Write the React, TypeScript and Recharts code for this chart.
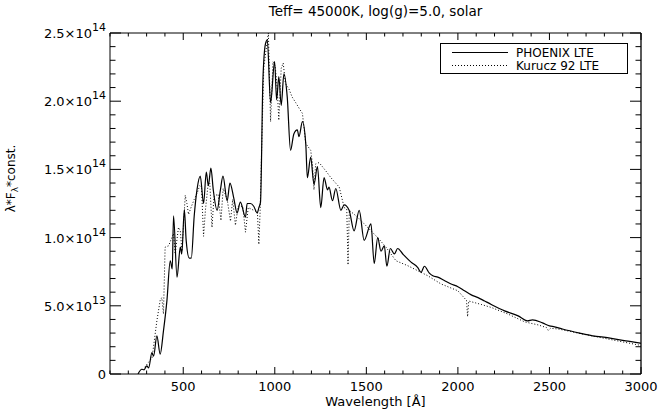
import {
  Legend,
  Line,
  LineChart,
  XAxis,
  YAxis,
} from "recharts";

// flux values are in units of 1e13 (lambda * F_lambda * const.)
const PHOENIX_WL = [
  253, 274, 286, 301, 311, 329, 338, 356, 374, 392, 411, 429, 440, 447, 466, 484, 492, 506, 516,
  533, 544, 560, 575, 593, 611, 626, 637, 651, 664, 685, 703, 717, 740, 755, 776, 794, 812, 840,
  849, 867, 885, 904, 913, 922, 935, 949, 959, 977, 999, 1010, 1022, 1035, 1050, 1068, 1086, 1104,
  1123, 1132, 1151, 1169, 1178, 1196, 1214, 1233, 1251, 1269, 1288, 1296, 1315, 1333, 1361, 1379,
  1406, 1433, 1461, 1488, 1525, 1543, 1562, 1580, 1598, 1612, 1631, 1653, 1671, 1699, 1717, 1744,
  1781, 1799, 1817, 1844, 1863, 1890, 1926, 1963, 2000, 2036, 2073, 2110, 2146, 2182, 2255, 2329,
  2380, 2407, 2462, 2500, 2528, 2571, 2665, 2736, 2824, 2917, 2988, 3000,
];
const PHOENIX_FLUX = [
  0, 0.35, 0.3, 0.6, 0.45, 1.57, 1.3, 2.8, 1.45, 3.16, 5.4, 8.3, 7.7, 11.6, 7.1, 9.3, 8.8, 12.05, 9.8,
  8.5, 8.5, 11.6, 13.5, 14.5, 12.5, 14.8, 13.8, 15.1, 13.5, 12.0, 13.5, 14.5, 12.7, 14.0, 12.9, 11.8,
  12.6, 11.5, 12.5, 12.5, 12.3, 11.8, 12.2, 12.6, 21.5, 24.2, 24.5, 19.9, 22.9, 20.1, 21.8, 19.7,
  22.0, 20.3, 16.4, 17.6, 17.9, 17.4, 18.5, 16.9, 14.4, 15.9, 13.9, 15.2, 12.2, 14.4, 13.5, 13.7,
  12.7, 13.6, 12.0, 12.4, 12.0, 10.5, 12.0, 9.8, 11.0, 8.1, 10.0, 9.0, 9.4, 7.9, 9.2, 8.8, 9.2, 8.8,
  8.55, 8.2, 7.8, 7.45, 7.9, 7.4, 7.2, 7.1, 6.85, 6.6, 6.4, 6.1, 5.8, 5.6, 5.35, 5.1, 4.63, 4.26,
  3.9, 3.97, 3.75, 3.53, 3.46, 3.3, 3.0, 2.8, 2.65, 2.43, 2.28, 2.25,
];

const KURUCZ_WL = [
  290, 330, 356, 374, 383, 392, 401, 420, 447, 456, 474, 484, 493, 511, 520, 529, 545, 560, 577,
  590, 600, 611, 621, 635, 645, 657, 668, 690, 706, 718, 740, 758, 770, 785, 800, 825, 840, 855,
  885, 905, 913, 920, 930, 940, 955, 965, 977, 990, 1002, 1013, 1022, 1035, 1046, 1058, 1077, 1095,
  1114, 1132, 1151, 1169, 1196, 1205, 1214, 1223, 1242, 1278, 1306, 1352, 1379, 1393, 1400, 1407,
  1452, 1507, 1562, 1607, 1662, 1726, 1781, 1836, 1908, 2000, 2040, 2047, 2053, 2059, 2127, 2182,
  2274, 2365, 2438, 2484, 2493, 2506, 2548, 2730, 2986, 3000,
];
const KURUCZ_FLUX = [
  0.5, 1.2, 3.9, 5.4, 5.6, 4.4, 9.3, 9.4, 10.3, 8.8, 10.75, 10.5, 9.0, 13.1, 12.5, 11.7, 12.3, 12.8,
  13.3, 13.8, 13.6, 10.1, 12.0, 13.8, 14.0, 10.75, 13.0, 13.2, 11.25, 13.6, 12.8, 11.2, 12.8, 10.9,
  12.3, 12.3, 10.4, 12.2, 12.0, 11.9, 9.5, 12.0, 17.5, 22.5, 24.0, 25.0, 18.5, 22.9, 22.6, 21.0,
  18.6, 22.4, 22.8, 21.3, 20.9, 20.3, 19.9, 19.5, 19.1, 16.9, 16.4, 15.5, 13.5, 15.4, 15.5, 14.9,
  14.4, 13.7, 12.2, 12.1, 8.0, 12.0, 11.5, 10.75, 10.0, 9.3, 8.3, 7.94, 7.57, 7.2, 6.6, 6.1, 5.5,
  5.4, 4.2, 5.35, 5.1, 4.88, 4.39, 3.82, 3.6, 3.4, 3.2, 3.35, 3.3, 2.8, 2.13, 2.1,
];

const SERIES_NAMES = ["PHOENIX LTE", "Kurucz 92 LTE"];
const X_MAJOR = [500, 1000, 1500, 2000, 2500, 3000];
const X_TICKS = Array.from({ length: 30 }, (_, i) => 100 + i * 100);
const Y_MAJOR = [0, 5, 10, 15, 20, 25];
const Y_MANTISSA = ["0", "5.0", "1.0", "1.5", "2.0", "2.5"];
const Y_EXPONENT = ["", "13", "14", "14", "14", "14"];
const Y_TICKS = Array.from({ length: 26 }, (_, i) => i);
const Y_MAX = 25;

const TITLE = "Teff= 45000K, log(g)=5.0, solar";

const CHART_W = 659;
const CHART_H = 412;
const TOP_GAP = 33;
const X_AXIS_H = 38;
const RIGHT_GAP = 18;
const PLOT_RIGHT = CHART_W - RIGHT_GAP;
const PLOT_H = CHART_H - TOP_GAP - X_AXIS_H;

type Row = { w: number; phoenix?: number; kurucz?: number };

function buildRows(): Row[] {
  const byW = new Map<number, Row>();
  const ensure = (w: number) => {
    let r = byW.get(w);
    if (!r) {
      r = { w };
      byW.set(w, r);
    }
    return r;
  };
  PHOENIX_WL.forEach((w, i) => (ensure(w).phoenix = PHOENIX_FLUX[i]));
  KURUCZ_WL.forEach((w, i) => (ensure(w).kurucz = KURUCZ_FLUX[i]));
  return Array.from(byW.values()).sort((a, b) => a.w - b.w);
}

const data = buildRows();
const FONT = 13;

function BottomTick({ x, y, payload }: any) {
  const major = X_MAJOR.includes(payload.value);
  return (
    <g>
      <line x1={x} x2={x} y1={y} y2={y - (major ? 7 : 3.5)} stroke="#000" />
      {major && (
        <text x={x} y={y + 17} textAnchor="middle" fill="#000" fontSize={FONT}>
          {payload.value}
        </text>
      )}
    </g>
  );
}

function TopTick({ x, y, payload }: any) {
  const major = X_MAJOR.includes(payload.value);
  return <line x1={x} x2={x} y1={y} y2={y + (major ? 7 : 3.5)} stroke="#000" />;
}

function LeftTick({ x, y, payload }: any) {
  const idx = Y_MAJOR.indexOf(payload.value);
  const major = idx >= 0;
  const exp = major ? Y_EXPONENT[idx] : "";
  return (
    <g>
      <line x1={x} x2={x + (major ? 11 : 5.5)} y1={y} y2={y} stroke="#000" />
      {major && (
        <text x={x - 4} y={y + 5} textAnchor="end" fill="#000" fontSize={FONT}>
          {exp ? `${Y_MANTISSA[idx]}×10` : Y_MANTISSA[idx]}
          {exp && <tspan fontSize={11} dy={-7}>{exp}</tspan>}
        </text>
      )}
    </g>
  );
}

function YTitle(props: any) {
  const vb = props.viewBox || { x: 0, y: 33, width: 110, height: 341 };
  const cx = vb.x + 15;
  const cy = vb.y + vb.height / 2 - 25;
  return (
    <text transform={`translate(${cx},${cy}) rotate(-90)`} textAnchor="middle" fill="#000" fontSize={12}>
      λ*F
      <tspan fontSize={9} dy={3}>λ</tspan>
      <tspan dy={-3}>*const.</tspan>
    </text>
  );
}

function LegendBox() {
  return (
    <svg width={188} height={31} style={{ display: "block" }}>
      <rect x={0.5} y={0.5} width={187} height={30} fill="#fff" stroke="#000" />
      {SERIES_NAMES.map((name, i) => (
        <g key={name}>
          <line
            x1={12}
            x2={68}
            y1={9.5 + i * 13}
            y2={9.5 + i * 13}
            stroke="#000"
            strokeWidth={1.2}
            strokeDasharray={i === 1 ? "1 2" : undefined}
          />
          <text x={76} y={13.5 + i * 13} fill="#000" fontSize={12}>
            {name}
          </text>
        </g>
      ))}
    </svg>
  );
}

// right side of the IDL box (frame line + inward ticks), laid over the chart
function RightFrame() {
  return (
    <svg
      width={CHART_W}
      height={CHART_H}
      style={{ position: "absolute", left: 0, top: 0, pointerEvents: "none", zIndex: 5 }}
    >
      <line
        x1={PLOT_RIGHT}
        x2={PLOT_RIGHT}
        y1={TOP_GAP}
        y2={TOP_GAP + PLOT_H}
        stroke="#000"
        strokeWidth={1.3}
      />
      {Y_TICKS.map((v) => {
        const y = TOP_GAP + PLOT_H * (1 - v / Y_MAX);
        const len = Y_MAJOR.includes(v) ? 11 : 5.5;
        return <line key={v} x1={PLOT_RIGHT} x2={PLOT_RIGHT - len} y1={y} y2={y} stroke="#000" />;
      })}
    </svg>
  );
}

export default function App() {
  return (
    <div
      style={{
        position: "absolute",
        left: 0,
        top: 0,
        width: CHART_W,
        height: CHART_H,
        background: "#fff",
        fontFamily: "'DejaVu Sans', sans-serif",
      }}
    >
      <LineChart
        width={CHART_W}
        height={CHART_H}
        data={data}
        margin={{ top: TOP_GAP - 1, right: RIGHT_GAP, bottom: 0, left: 0 }}
      >
        <XAxis
          dataKey="w"
          type="number"
          domain={[100, 3000]}
          allowDataOverflow
          ticks={X_TICKS}
          interval={0}
          height={X_AXIS_H}
          tickSize={0}
          tickMargin={0}
          tickLine={false}
          tick={<BottomTick />}
          axisLine={{ stroke: "#000" }}
          label={{ value: "Wavelength [Å]", position: "insideBottom", offset: 6, fill: "#000", fontSize: FONT }}
        />
        <XAxis
          xAxisId="top"
          orientation="top"
          dataKey="w"
          type="number"
          domain={[100, 3000]}
          allowDataOverflow
          ticks={X_TICKS}
          interval={0}
          height={1}
          tickSize={0}
          tickMargin={0}
          tickLine={false}
          tick={<TopTick />}
          axisLine={{ stroke: "#000" }}
          label={{ value: TITLE, position: "top", offset: 16, fill: "#000", fontSize: 13.5 }}
        />
        <YAxis
          type="number"
          domain={[0, Y_MAX]}
          allowDataOverflow
          ticks={Y_TICKS}
          interval={0}
          width={110}
          tickSize={0}
          tickMargin={0}
          tickLine={false}
          tick={<LeftTick />}
          axisLine={{ stroke: "#000" }}
          label={YTitle}
        />
        <Legend
          layout="vertical"
          align="center"
          verticalAlign="middle"
          content={<LegendBox />}
          wrapperStyle={{ left: 440, top: 43, width: 188, height: 31 }}
        />
        <Line
          type="monotone"
          dataKey="phoenix"
          name={SERIES_NAMES[0]}
          stroke="#000"
          strokeWidth={1.2}
          dot={false}
          connectNulls
          isAnimationActive={false}
        />
        <Line
          type="linear"
          dataKey="kurucz"
          name={SERIES_NAMES[1]}
          stroke="#000"
          strokeWidth={1}
          strokeDasharray="1 2"
          dot={false}
          connectNulls
          isAnimationActive={false}
        />
        {/* invisible copy tied to the top axis so the IDL-style frame gets drawn */}
        <Line
          xAxisId="top"
          dataKey="phoenix"
          stroke="none"
          legendType="none"
          dot={false}
          activeDot={false}
          connectNulls
          isAnimationActive={false}
        />
      </LineChart>
      <RightFrame />
    </div>
  );
}
